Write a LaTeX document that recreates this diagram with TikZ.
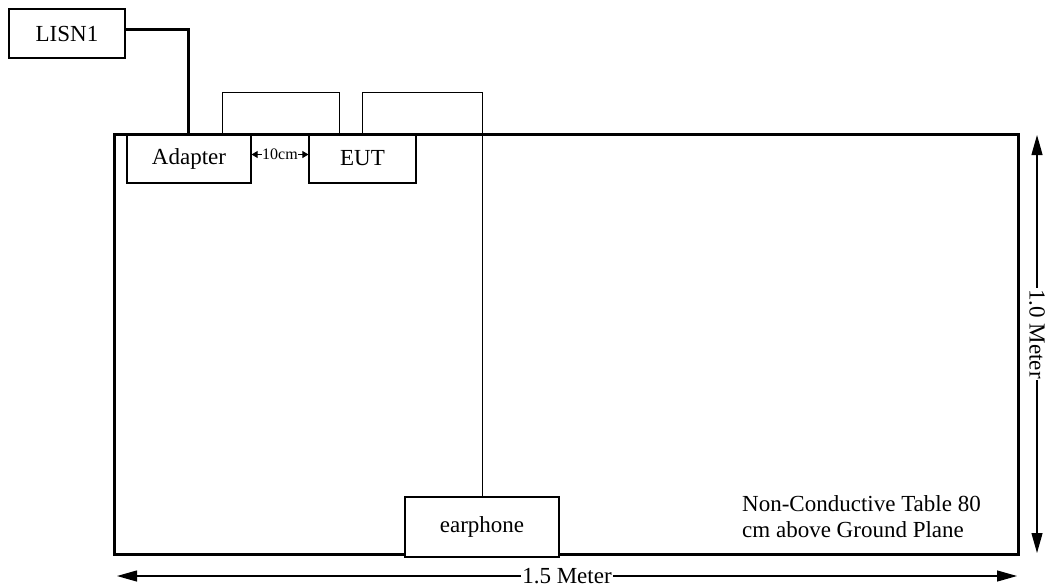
\documentclass[tikz,border=0pt]{standalone}
\usepackage{fontspec}
\setmainfont{Liberation Serif}
\usepackage{tikz}
\usetikzlibrary{arrows.meta, positioning, calc}

\begin{document}
\begin{tikzpicture}[
    x=1pt, y=-1pt,
    box/.style={draw, line width=1.2pt, inner sep=0pt, align=center, font=\fontsize{23}{26}\selectfont},
    cable/.style={line width=0.9pt},
    power/.style={line width=3pt},
    dimarrow/.style={{Triangle[length=20pt, width=11pt]}-{Triangle[length=20pt, width=11pt]}, line width=1.1pt},
    gaparrow/.style={{Triangle[length=6pt, width=7pt]}-{Triangle[length=6pt, width=7pt]}, line width=0.8pt},
    label/.style={fill=white, inner sep=1pt, font=\fontsize{23}{26}\selectfont}
]
\useasboundingbox (0,0) rectangle (1048,587);

\node[draw, power, minimum width=904pt, minimum height=420pt, inner sep=0pt] (table) at (566,344) {};

\node[box, minimum width=116pt, minimum height=49pt] (lisn) at (67,33.5) {LISN1};
\node[box, minimum width=124pt, minimum height=49pt] (adapter) at (189,158.5) {Adapter};
\node[box, minimum width=107pt, minimum height=49pt] (eut) at (362.5,158.5) {EUT};
\node[box, fill=white, minimum width=154pt, minimum height=60pt] (earphone) at (482,527) {earphone};

\node[anchor=north west, inner sep=0pt, align=left, font=\fontsize{23}{26}\selectfont] (note) at (742,495)
    {Non-Conductive Table 80\\cm above Ground Plane};

\coordinate (k1) at (188,29);
\coordinate (c1a) at (222,92);
\coordinate (c1b) at (339,92);
\coordinate (c2a) at (362,92);
\coordinate (c2b) at (482,92);

\draw[power] (lisn.east |- k1) -- (k1) -- (k1 |- table.north);
\draw[cable] (adapter.north -| c1a) -- (c1a) -- (c1b) -- (eut.north -| c1b);
\draw[cable] (eut.north -| c2a) -- (c2a) -- (c2b) -- (earphone.north);

\draw[gaparrow] ([yshift=4pt]adapter.east) -- node[fill=white, inner sep=0.3pt, font=\fontsize{16}{16}\selectfont] {10cm} ([yshift=4pt]eut.west);

\coordinate (h1) at (117,576);
\coordinate (h2) at (1017,576);
\coordinate (v1) at (1037,135);
\coordinate (v2) at (1037,553);
\draw[dimarrow] (h1) -- node[label] {1.5 Meter} (h2);
\draw[dimarrow] (v1) -- node[label, pos=0.476, rotate=-90] {1.0 Meter} (v2);

\end{tikzpicture}
\end{document}
